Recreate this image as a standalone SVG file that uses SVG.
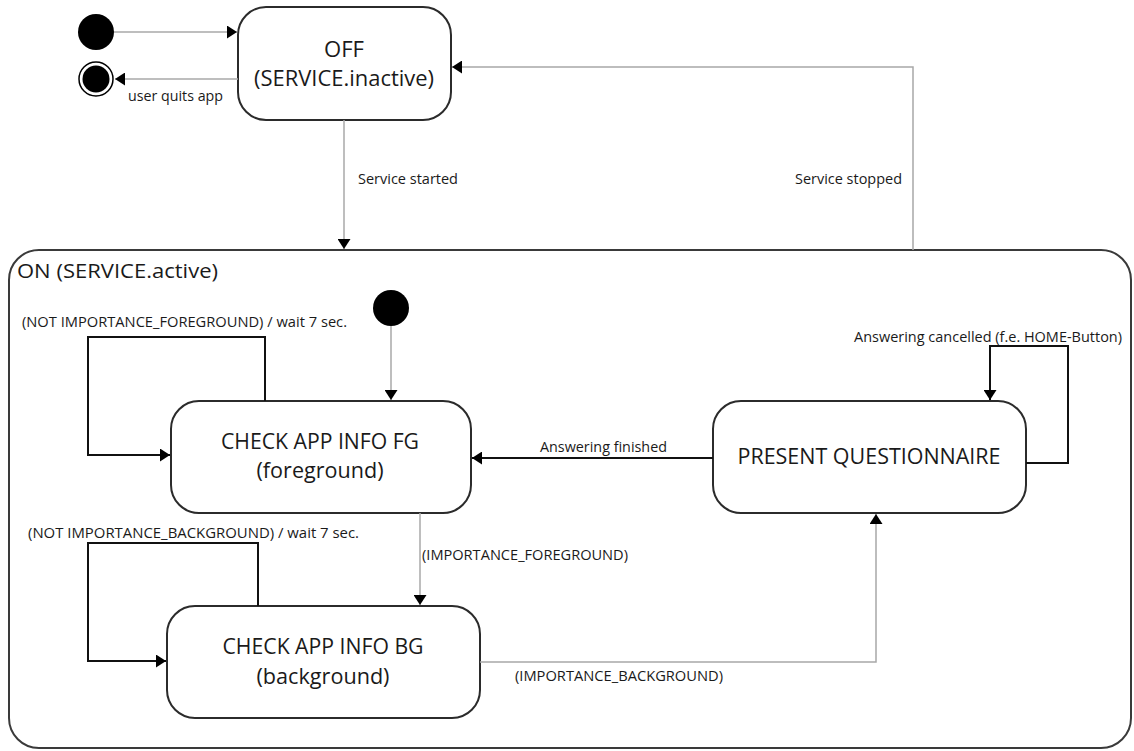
<svg xmlns="http://www.w3.org/2000/svg" width="1134" height="751" viewBox="0 0 1134 751">
<defs>
<style>
.node{fill:#fff;stroke:#2b2b2b;stroke-width:2}
.cont{fill:#fff;stroke:#3a3a3a;stroke-width:2}
.big{font-family:"Open Sans","Noto Sans",sans-serif;font-size:21px;fill:#1a1a1a;text-anchor:middle}
.lbl{font-family:"Open Sans","Noto Sans",sans-serif;font-size:15px;fill:#1a1a1a}
.g{fill:none;stroke:#a8a8a8;stroke-width:1.5}
.k{fill:none;stroke:#111;stroke-width:2}
.dot{fill:#000}
</style>
<marker id="ah" markerWidth="11" markerHeight="13" refX="10" refY="6.5" orient="auto" markerUnits="userSpaceOnUse">
<path d="M0,0 L10,6.5 L0,13 z" fill="#000"/>
</marker>
</defs>
<rect width="1134" height="751" fill="#fff"/>

<g id="on">
<rect class="cont" x="9" y="250" width="1122" height="498" rx="30"/>
<text x="17" y="278" font-family="Open Sans, Noto Sans, sans-serif" font-size="20" fill="#1a1a1a" textLength="201" lengthAdjust="spacingAndGlyphs">ON (SERVICE.active)</text>
</g>

<g id="init">
<circle class="dot" cx="96" cy="32" r="18"/>
</g>
<g id="final">
<circle cx="96" cy="79" r="17" fill="#fff" stroke="#000" stroke-width="1.5"/>
<circle class="dot" cx="96" cy="79" r="13.5"/>
</g>
<g id="off">
<rect class="node" x="238" y="7" width="213" height="113" rx="28"/>
<text class="big" x="344" y="57" textLength="40" lengthAdjust="spacingAndGlyphs">OFF</text>
<text class="big" x="344" y="86" textLength="180" lengthAdjust="spacingAndGlyphs">(SERVICE.inactive)</text>
</g>
<g id="init2">
<circle class="dot" cx="391" cy="308" r="18"/>
</g>
<g id="fg">
<rect class="node" x="171" y="401" width="300" height="112" rx="28"/>
<text class="big" x="320" y="449" textLength="198" lengthAdjust="spacingAndGlyphs">CHECK APP INFO FG</text>
<text class="big" x="320" y="478" textLength="127" lengthAdjust="spacingAndGlyphs">(foreground)</text>
</g>
<g id="bg">
<rect class="node" x="167" y="606" width="313" height="112" rx="28"/>
<text class="big" x="323" y="654" textLength="201" lengthAdjust="spacingAndGlyphs">CHECK APP INFO BG</text>
<text class="big" x="323" y="684" textLength="133" lengthAdjust="spacingAndGlyphs">(background)</text>
</g>
<g id="pq">
<rect class="node" x="713" y="401" width="313" height="112" rx="28"/>
<text class="big" x="869" y="464" textLength="263" lengthAdjust="spacingAndGlyphs">PRESENT QUESTIONNAIRE</text>
</g>

<g id="connectors">
<path class="g" d="M114,32 H237" marker-end="url(#ah)"/>
<path class="g" d="M238,79 H115" marker-end="url(#ah)"/>
<path class="g" d="M344,120 V249" marker-end="url(#ah)"/>
<path class="g" d="M913,250 V67 H452" marker-end="url(#ah)"/>
<path class="g" d="M391,326 V400" marker-end="url(#ah)"/>
<path class="k" d="M265,401 V337 H88 V455 H170" marker-end="url(#ah)"/>
<path class="k" d="M713,458 H472" marker-end="url(#ah)"/>
<path class="k" d="M1026,463 H1068 V346 H990 V400" marker-end="url(#ah)"/>
<path class="g" d="M420,513 V605" marker-end="url(#ah)"/>
<path class="k" d="M258,606 V543 H88 V661 H166" marker-end="url(#ah)"/>
<path class="g" d="M480,662 H876 V514" marker-end="url(#ah)"/>
</g>

<g id="labels">
<text class="lbl" x="128" y="101" font-size="14" textLength="95" lengthAdjust="spacingAndGlyphs">user quits app</text>
<text class="lbl" x="358" y="184" textLength="100" lengthAdjust="spacingAndGlyphs">Service started</text>
<text class="lbl" x="795" y="184" textLength="107" lengthAdjust="spacingAndGlyphs">Service stopped</text>
<text class="lbl" x="22" y="327" textLength="325" lengthAdjust="spacingAndGlyphs">(NOT IMPORTANCE_FOREGROUND) / wait 7 sec.</text>
<text class="lbl" x="28" y="538" textLength="331" lengthAdjust="spacingAndGlyphs">(NOT IMPORTANCE_BACKGROUND)  / wait 7 sec.</text>
<text class="lbl" x="422" y="560" textLength="206" lengthAdjust="spacingAndGlyphs">(IMPORTANCE_FOREGROUND)</text>
<text class="lbl" x="515" y="681" textLength="208" lengthAdjust="spacingAndGlyphs">(IMPORTANCE_BACKGROUND)</text>
<text class="lbl" x="540" y="452" textLength="127" lengthAdjust="spacingAndGlyphs">Answering finished</text>
<text class="lbl" x="854" y="342" textLength="268" lengthAdjust="spacingAndGlyphs">Answering cancelled (f.e. HOME-Button)</text>
</g>
</svg>
